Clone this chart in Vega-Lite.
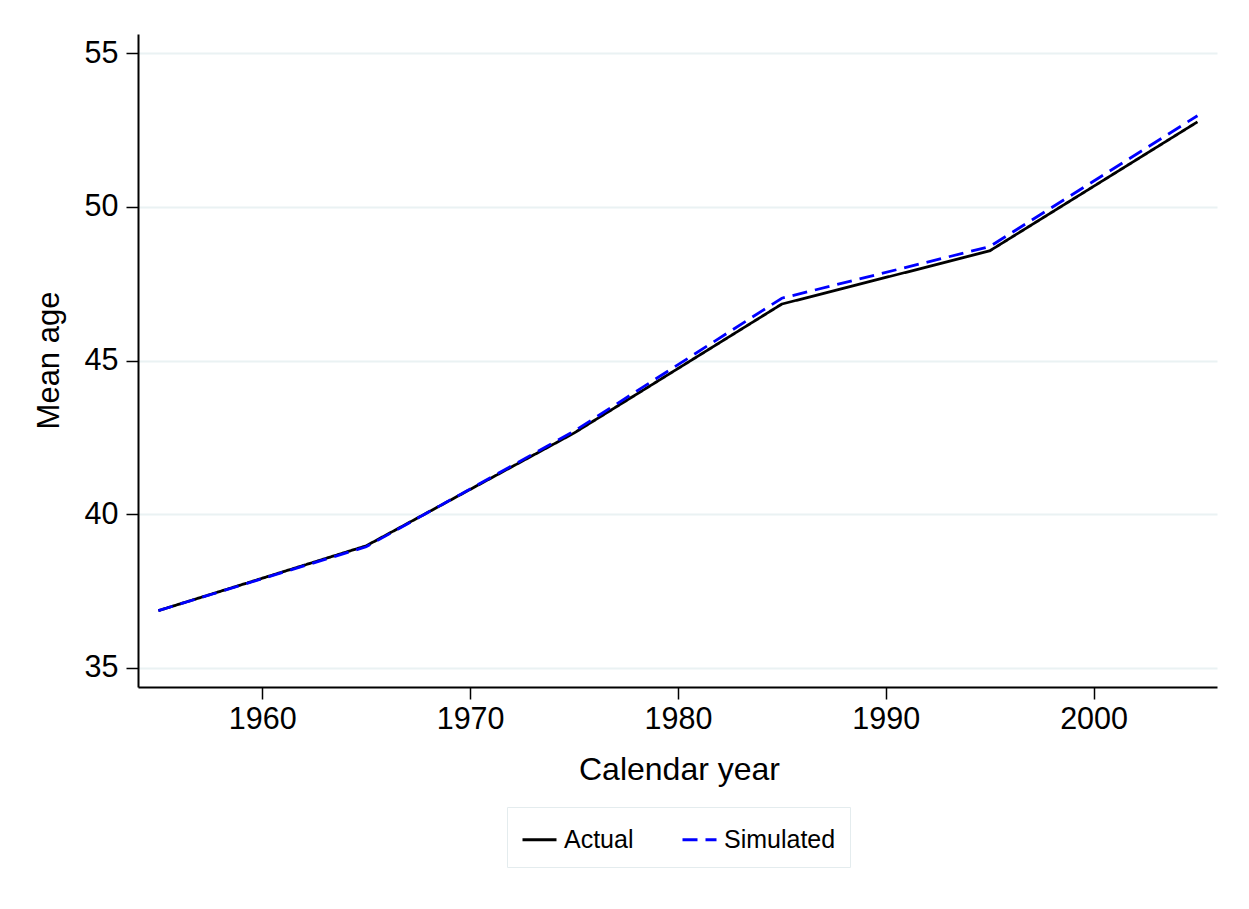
{
  "$schema": "https://vega.github.io/schema/vega-lite/v6.json",
  "width": 1079,
  "height": 653,
  "autosize": {"type": "none"},
  "padding": {"left": 138, "top": 34, "right": 32, "bottom": 222},
  "background": "white",
  "config": {"view": {"stroke": null}, "font": "Liberation Sans"},
  "data": {
    "values": [
      {"year": 1955, "age": 36.86, "series": "Actual"},
      {"year": 1965, "age": 38.97, "series": "Actual"},
      {"year": 1975, "age": 42.64, "series": "Actual"},
      {"year": 1985, "age": 46.84, "series": "Actual"},
      {"year": 1995, "age": 48.57, "series": "Actual"},
      {"year": 2005, "age": 52.77, "series": "Actual"},
      {"year": 1955, "age": 36.86, "series": "Simulated"},
      {"year": 1965, "age": 38.94, "series": "Simulated"},
      {"year": 1975, "age": 42.7, "series": "Simulated"},
      {"year": 1985, "age": 47.03, "series": "Simulated"},
      {"year": 1995, "age": 48.71, "series": "Simulated"},
      {"year": 2005, "age": 52.97, "series": "Simulated"}
    ]
  },
  "mark": {"type": "line", "strokeWidth": 2.8, "clip": true},
  "encoding": {
    "x": {
      "field": "year",
      "type": "quantitative",
      "scale": {"domain": [1954.02, 2005.94], "nice": false, "zero": false},
      "axis": {
        "values": [1960, 1970, 1980, 1990, 2000],
        "format": "d",
        "title": "Calendar year",
        "grid": false,
        "domainColor": "black",
        "domainWidth": 2,
        "tickColor": "black",
        "tickWidth": 1.5,
        "tickSize": 12,
        "labelFontSize": 30.5,
        "labelColor": "black",
        "labelPadding": 5,
        "labelFlush": false,
        "titleFontSize": 32,
        "titleFontWeight": "normal",
        "titleColor": "black",
        "titleX": 541,
        "titleY": 92,
        "titleBaseline": "alphabetic"
      }
    },
    "y": {
      "field": "age",
      "type": "quantitative",
      "scale": {"domain": [34.375, 55.63], "nice": false, "zero": false},
      "axis": {
        "values": [35, 40, 45, 50, 55],
        "title": "Mean age",
        "grid": true,
        "gridColor": "#EAF2F3",
        "gridWidth": 2,
        "domainColor": "black",
        "domainWidth": 2,
        "tickColor": "black",
        "tickWidth": 1.5,
        "tickSize": 12,
        "labelFontSize": 30.5,
        "labelColor": "black",
        "labelPadding": 8,
        "titleFontSize": 31,
        "titleFontWeight": "normal",
        "titleColor": "black",
        "titleAngle": 270,
        "titleAlign": "center",
        "titleBaseline": "alphabetic",
        "titleX": -80,
        "titleY": 326
      }
    },
    "color": {
      "field": "series",
      "type": "nominal",
      "scale": {"domain": ["Actual", "Simulated"], "range": ["black", "#0000FF"]},
      "legend": {
        "orient": "none",
        "legendX": 369,
        "legendY": 773,
        "direction": "horizontal",
        "title": null,
        "strokeColor": "#E4ECEE",
        "padding": 14,
        "symbolType": "stroke",
        "symbolSize": 1156,
        "symbolStrokeWidth": 2.8,
        "labelFontSize": 25,
        "labelColor": "black",
        "labelOffset": 6,
        "columnPadding": 42
      }
    },
    "strokeDash": {
      "field": "series",
      "type": "nominal",
      "scale": {"domain": ["Actual", "Simulated"], "range": [[1, 0], [15, 8]]},
      "legend": {
        "orient": "none",
        "legendX": 369,
        "legendY": 773,
        "direction": "horizontal",
        "title": null,
        "strokeColor": "#E4ECEE",
        "padding": 14,
        "symbolType": "stroke",
        "symbolSize": 1156,
        "symbolStrokeWidth": 2.8,
        "labelFontSize": 25,
        "labelColor": "black",
        "labelOffset": 6,
        "columnPadding": 42
      }
    }
  }
}
